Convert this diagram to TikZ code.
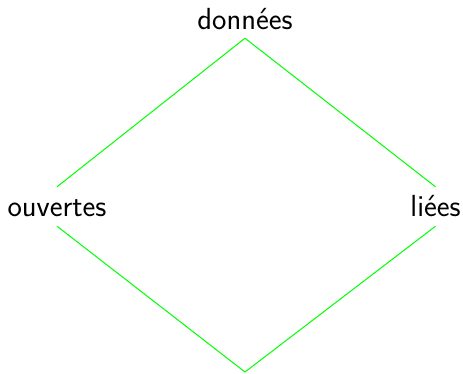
\documentclass[tikz,border=0pt]{standalone}
\definecolor{lgreen}{rgb}{0,1,0}
\begin{document}
\begin{tikzpicture}[x=1pt,y=-1pt,
  lbl/.style={inner sep=0pt, anchor=base, font=\fontsize{30.5}{36}\sffamily},
  side/.style={lbl, text height=29pt, text depth=10pt},
  link/.style={draw=lgreen, line width=1pt}]
\useasboundingbox (0,0) rectangle (463,373);
\node[lbl, text depth=9pt] (d) at (245,29) {données};
\node[side] (o) at (57,216) {ouvertes};
\node[side] (l) at (435.5,216) {liées};
\coordinate (b) at (245,372);
\draw[link] (d.south) -- (o.north);
\draw[link] (d.south) -- (l.north);
\draw[link] (o.south) -- (b);
\draw[link] (l.south) -- (b);
\end{tikzpicture}
\end{document}
